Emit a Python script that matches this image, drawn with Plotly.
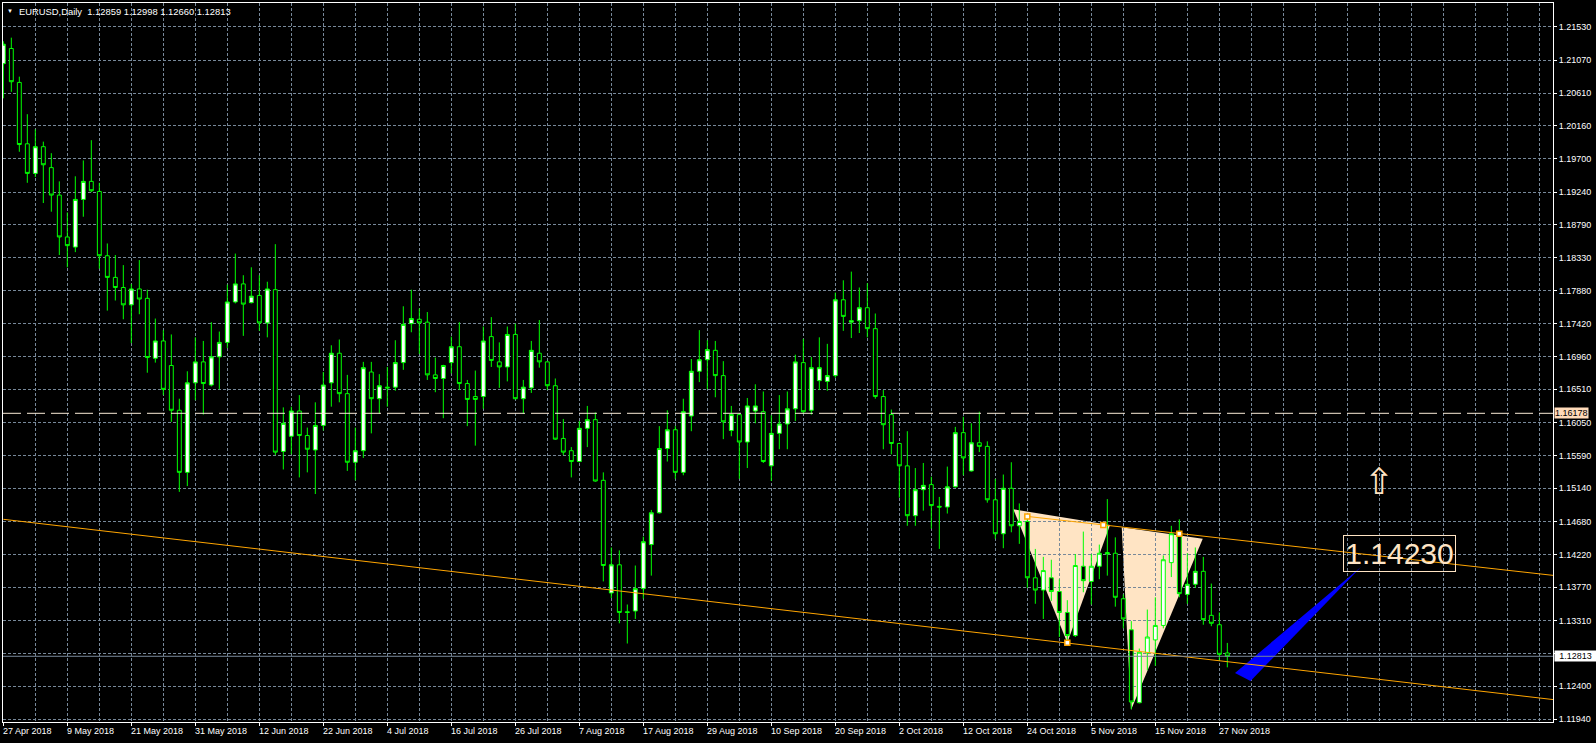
import plotly.graph_objects as go

# ---------------- data ----------------
open_ = [1.2102, 1.2123, 1.2076, 1.1991, 1.1950, 1.1987, 1.1958, 1.1920, 1.1862, 1.1848,
         1.1914, 1.1939, 1.1925, 1.1836, 1.1806, 1.1792, 1.1768, 1.1790, 1.1777, 1.1694,
         1.1718, 1.1684, 1.1622, 1.1536, 1.1660, 1.1689, 1.1657, 1.1696, 1.1716, 1.1772,
         1.1797, 1.1771, 1.1781, 1.1743, 1.1789, 1.1565, 1.1586, 1.1621, 1.1587, 1.1567,
         1.1601, 1.1660, 1.1701, 1.1645, 1.1550, 1.1566, 1.1675, 1.1638, 1.1654, 1.1654,
         1.1688, 1.1742, 1.1748, 1.1744, 1.1671, 1.1666, 1.1688, 1.1710, 1.1659, 1.1641,
         1.1641, 1.1724, 1.1689, 1.1682, 1.1727, 1.1638, 1.1653, 1.1701, 1.1689, 1.1656,
         1.1583, 1.1566, 1.1551, 1.1597, 1.1609, 1.1525, 1.1369, 1.1408, 1.1343, 1.1344,
         1.1375, 1.1436, 1.1480, 1.1569, 1.1595, 1.1536, 1.1614, 1.1676, 1.1692, 1.1705,
         1.1670, 1.1594, 1.1616, 1.1578, 1.1621, 1.1620, 1.1545, 1.1590, 1.1603, 1.1624,
         1.1688, 1.1622, 1.1663, 1.1662, 1.1670, 1.1775, 1.1744, 1.1746, 1.1764, 1.1735,
         1.1641, 1.1616, 1.1576, 1.1545, 1.1476, 1.1512, 1.1519, 1.1489, 1.1488, 1.1516,
         1.1591, 1.1538, 1.1577, 1.1572, 1.1498, 1.1451, 1.1514, 1.1462, 1.1468, 1.1390,
         1.1373, 1.1390, 1.1371, 1.1342, 1.1310, 1.1406, 1.1385, 1.1406, 1.1425, 1.1424,
         1.1361, 1.1318, 1.1217, 1.1286, 1.1304, 1.1324, 1.1411, 1.1451, 1.1367, 1.1381,
         1.1399, 1.1338, 1.1325, 1.12859]
high = [1.2133, 1.2138, 1.2084, 1.2032, 1.2011, 1.1994, 1.1978, 1.1939, 1.1896, 1.1946,
        1.1968, 1.1996, 1.1937, 1.1853, 1.1837, 1.1823, 1.1797, 1.1830, 1.1789, 1.1749,
        1.1733, 1.1727, 1.1638, 1.1676, 1.1723, 1.1718, 1.1744, 1.1731, 1.1796, 1.1839,
        1.1809, 1.1820, 1.1809, 1.1800, 1.1852, 1.1626, 1.1627, 1.1643, 1.1598, 1.1633,
        1.1675, 1.1712, 1.1720, 1.1671, 1.1598, 1.1689, 1.1689, 1.1672, 1.1682, 1.1719,
        1.1766, 1.1789, 1.1763, 1.1758, 1.1695, 1.1685, 1.1724, 1.1744, 1.1664, 1.1677,
        1.1738, 1.1751, 1.1716, 1.1738, 1.1742, 1.1664, 1.1718, 1.1747, 1.1690, 1.1666,
        1.1610, 1.1571, 1.1607, 1.1628, 1.1619, 1.1536, 1.1432, 1.1428, 1.1353, 1.1407,
        1.1447, 1.1484, 1.1600, 1.1622, 1.1600, 1.1638, 1.1693, 1.1733, 1.1719, 1.1718,
        1.1690, 1.1628, 1.1618, 1.1639, 1.1658, 1.1648, 1.1615, 1.1643, 1.1648, 1.1699,
        1.1721, 1.1696, 1.1723, 1.1714, 1.1785, 1.1802, 1.1814, 1.1792, 1.1798, 1.1756,
        1.1650, 1.1623, 1.1577, 1.1593, 1.1542, 1.1549, 1.1530, 1.1502, 1.1544, 1.1599,
        1.1613, 1.1604, 1.1620, 1.1579, 1.1527, 1.1533, 1.1550, 1.1493, 1.1474, 1.1430,
        1.1419, 1.1415, 1.1388, 1.1359, 1.1423, 1.1454, 1.1423, 1.1436, 1.1499, 1.1446,
        1.1367, 1.1330, 1.1292, 1.1346, 1.1363, 1.1421, 1.1462, 1.1471, 1.1424, 1.1432,
        1.1419, 1.1382, 1.1342, 1.12998]
low = [1.2054, 1.2063, 1.1980, 1.1937, 1.1945, 1.1909, 1.1897, 1.1837, 1.1820, 1.1841,
       1.1890, 1.1924, 1.1818, 1.1760, 1.1774, 1.1748, 1.1715, 1.1755, 1.1674, 1.1688,
       1.1643, 1.1606, 1.1509, 1.1517, 1.1636, 1.1616, 1.1655, 1.1651, 1.1708, 1.1770,
       1.1725, 1.1770, 1.1732, 1.1723, 1.1560, 1.1540, 1.1561, 1.1529, 1.1536, 1.1506,
       1.1594, 1.1627, 1.1633, 1.1538, 1.1525, 1.1556, 1.1590, 1.1617, 1.1627, 1.1649,
       1.1678, 1.1730, 1.1700, 1.1664, 1.1647, 1.1611, 1.1673, 1.1650, 1.1600, 1.1573,
       1.1624, 1.1682, 1.1653, 1.1662, 1.1637, 1.1617, 1.1646, 1.1681, 1.1650, 1.1581,
       1.1560, 1.1529, 1.1550, 1.1571, 1.1523, 1.1385, 1.1362, 1.1327, 1.1299, 1.1333,
       1.1361, 1.1393, 1.1479, 1.1551, 1.1527, 1.1532, 1.1593, 1.1661, 1.1651, 1.1640,
       1.1582, 1.1586, 1.1527, 1.1542, 1.1604, 1.1549, 1.1524, 1.1568, 1.1568, 1.1607,
       1.1617, 1.1616, 1.1650, 1.1649, 1.1667, 1.1732, 1.1722, 1.1729, 1.1723, 1.1638,
       1.1568, 1.1561, 1.1501, 1.1462, 1.1462, 1.1483, 1.1458, 1.1430, 1.1479, 1.1515,
       1.1532, 1.1537, 1.1564, 1.1494, 1.1444, 1.1431, 1.1453, 1.1437, 1.1376, 1.1354,
       1.1333, 1.1358, 1.1308, 1.1301, 1.1308, 1.1370, 1.1353, 1.1388, 1.1393, 1.1350,
       1.1320, 1.1208, 1.1216, 1.1262, 1.1268, 1.1320, 1.1391, 1.1363, 1.1354, 1.1376,
       1.1325, 1.1323, 1.1275, 1.12660]
close = [1.2129, 1.2077, 1.1990, 1.1950, 1.1987, 1.1962, 1.1920, 1.1862, 1.1850, 1.1914,
         1.1939, 1.1926, 1.1836, 1.1806, 1.1792, 1.1768, 1.1790, 1.1776, 1.1695, 1.1718,
         1.1651, 1.1622, 1.1536, 1.1660, 1.1689, 1.1659, 1.1696, 1.1716, 1.1772, 1.1797,
         1.1769, 1.1780, 1.1743, 1.1790, 1.1564, 1.1604, 1.1621, 1.1587, 1.1568, 1.1601,
         1.1657, 1.1701, 1.1645, 1.1550, 1.1566, 1.1681, 1.1638, 1.1656, 1.1653, 1.1688,
         1.1741, 1.1749, 1.1743, 1.1671, 1.1666, 1.1684, 1.1710, 1.1659, 1.1637, 1.1637,
         1.1718, 1.1691, 1.1682, 1.1727, 1.1638, 1.1654, 1.1705, 1.1689, 1.1656, 1.1582,
         1.1564, 1.1551, 1.1597, 1.1609, 1.1524, 1.1407, 1.1408, 1.1342, 1.1342, 1.1375,
         1.1440, 1.1480, 1.1569, 1.1595, 1.1536, 1.1620, 1.1676, 1.1692, 1.1706, 1.1670,
         1.1606, 1.1616, 1.1578, 1.1628, 1.1628, 1.1551, 1.1590, 1.1603, 1.1624, 1.1689,
         1.1620, 1.1681, 1.1681, 1.1670, 1.1775, 1.1752, 1.1746, 1.1764, 1.1735, 1.1641,
         1.1602, 1.1576, 1.1545, 1.1476, 1.1512, 1.1518, 1.1490, 1.1488, 1.1516, 1.1591,
         1.1556, 1.1577, 1.1572, 1.1498, 1.1451, 1.1514, 1.1462, 1.1468, 1.1390, 1.1373,
         1.1400, 1.1371, 1.1342, 1.1310, 1.1407, 1.1386, 1.1406, 1.1424, 1.1423, 1.1363,
         1.1333, 1.1218, 1.1287, 1.1308, 1.1324, 1.1415, 1.1451, 1.1368, 1.1381, 1.1399,
         1.1332, 1.1327, 1.1284, 1.12813]
bar_index = list(range(len(open_)))

date_label_bars = [0, 8, 16, 24, 32, 40, 48, 56, 64, 72, 80, 88, 96, 104, 112, 120, 128, 136, 144, 152]
date_labels = ["27 Apr 2018", "9 May 2018", "21 May 2018", "31 May 2018", "12 Jun 2018",
               "22 Jun 2018", "4 Jul 2018", "16 Jul 2018", "26 Jul 2018", "7 Aug 2018",
               "17 Aug 2018", "29 Aug 2018", "10 Sep 2018", "20 Sep 2018", "2 Oct 2018",
               "12 Oct 2018", "24 Oct 2018", "5 Nov 2018", "15 Nov 2018", "27 Nov 2018"]

price_ticks = ["1.21530", "1.21070", "1.20610", "1.20160", "1.19700", "1.19240", "1.18790",
               "1.18330", "1.17880", "1.17420", "1.16960", "1.16510", "1.16050", "1.15590",
               "1.15140", "1.14680", "1.14220", "1.13770", "1.13310", "1.12850", "1.12400",
               "1.11940"]

title_text = "EURUSD,Daily\u00a0\u00a01.12859 1.12998 1.12660 1.12813"

hline_level = 1.16178
bid_level = 1.12813

lower_tl_x = [0, 194]
lower_tl_y = [1.1471, 1.1221]
upper_tl_x = [128, 194]
upper_tl_y = [1.1475, 1.1393]
pivot_x = [128, 137.5, 147, 133]
pivot_y = [1.1475, 1.1463, 1.1451, 1.1300]

tri1_x = [126.25, 138.34, 133.0]
tri1_y = [1.1485, 1.1463, 1.1300]
tri2_x = [139.8, 149.93, 140.96]
tri2_y = [1.1460, 1.1444, 1.1207]

blue_x = [153.96, 155.9, 169.7]
blue_y = [1.1258, 1.1247, 1.1405]

target_x, target_y, target_text = 174.5, 1.1423, "1.14230"
arrow_x, arrow_y = 172, 1.1524

# ---------------- styling ----------------
GRID = "#778899"
BISQUE = "#FFE4C4"
FONT = "Liberation Sans"

fig = go.Figure()

fig.add_trace(go.Scatter(x=blue_x, y=blue_y, fill="toself", fillcolor="#0000FF",
                         mode="lines", line=dict(width=0, color="#0000FF"), hoverinfo="skip"))

fig.add_trace(go.Candlestick(
    x=bar_index, open=open_, high=high, low=low, close=close,
    increasing=dict(line=dict(color="#00FF00", width=1), fillcolor="#FFFFFF"),
    decreasing=dict(line=dict(color="#00FF00", width=1), fillcolor="#000000"),
    whiskerwidth=0, hoverinfo="skip"))

fig.add_trace(go.Scatter(x=lower_tl_x, y=lower_tl_y, mode="lines",
                         line=dict(color="#FFA500", width=1), hoverinfo="skip"))
fig.add_trace(go.Scatter(x=upper_tl_x, y=upper_tl_y, mode="lines",
                         line=dict(color="#FFA500", width=1), hoverinfo="skip"))
fig.add_trace(go.Scatter(x=pivot_x, y=pivot_y, mode="markers",
                         marker=dict(symbol="square", size=5, color="#FFFFFF",
                                     line=dict(color="#FFA500", width=1.5)),
                         hoverinfo="skip"))

for tx, ty in ((tri1_x, tri1_y), (tri2_x, tri2_y)):
    path = "M {},{} L {},{} L {},{} Z".format(tx[0], ty[0], tx[1], ty[1], tx[2], ty[2])
    fig.add_shape(type="path", path=path, xref="x", yref="y", layer="below",
                  fillcolor=BISQUE, line=dict(width=0))

fig.add_hline(y=hline_level, line=dict(color="#FAEBD7", width=1, dash="18px,6px"))
fig.add_hline(y=bid_level, line=dict(color=GRID, width=1))

# price labels on the right axis
fig.add_annotation(x=1, xref="paper", y=hline_level, yref="y", text="1.16178",
                   xanchor="left", xshift=1, showarrow=False, bgcolor="#FFDAB9",
                   font=dict(family=FONT, size=9, color="black"), borderpad=0)
fig.add_annotation(x=1, xref="paper", y=bid_level, yref="y", text="1.12813",
                   xanchor="left", xshift=1, showarrow=False, bgcolor="#FFFFFF",
                   font=dict(family=FONT, size=9, color="black"), borderpad=0, width=41)

# date labels
for b, lab in zip(date_label_bars, date_labels):
    fig.add_annotation(x=b, xref="x", y=0, yref="paper", text=lab, showarrow=False,
                       xanchor="left", yanchor="top", xshift=-2, yshift=-2,
                       font=dict(family=FONT, size=9, color="white"))

# title
fig.add_annotation(x=0, xref="paper", y=1, yref="paper", text="\u25BC", showarrow=False,
                   xanchor="left", yanchor="top", xshift=2, yshift=-3,
                   font=dict(family=FONT, size=6, color="white"))
fig.add_annotation(x=0, xref="paper", y=1, yref="paper", text=title_text, showarrow=False,
                   xanchor="left", yanchor="top", xshift=14, yshift=-1,
                   font=dict(family=FONT, size=9.4, color="white"))

# target price box
fig.add_annotation(x=target_x, y=target_y, text=target_text, showarrow=False,
                   xanchor="center", yanchor="middle", bordercolor=BISQUE, borderwidth=1,
                   borderpad=0, width=111, height=35,
                   font=dict(family=FONT, size=30, color=BISQUE))
fig.add_annotation(x=arrow_x, y=arrow_y, text="\u21E7", showarrow=False,
                   xanchor="center", yanchor="middle",
                   font=dict(family="DejaVu Sans", size=36, color=BISQUE))

fig.update_layout(
    width=1596, height=743,
    margin=dict(l=3, r=43, t=3, b=21),
    paper_bgcolor="black", plot_bgcolor="black",
    showlegend=False, hovermode=False,
    font=dict(family=FONT, size=9, color="white"),
)
fig.update_xaxes(
    range=[-0.04, 193.71], rangeslider_visible=False,
    showline=True, linecolor="white", linewidth=1, mirror=True,
    tickmode="array", tickvals=date_label_bars, showticklabels=False,
    ticks="outside", ticklen=3, tickcolor="white",
    showgrid=True, gridcolor=GRID, gridwidth=1, griddash="3px,2px", zeroline=False,
    minor=dict(tick0=0, dtick=4, showgrid=True, gridcolor=GRID, gridwidth=1,
               griddash="3px,2px", ticks=""),
)
fig.update_yaxes(
    range=[1.11903, 1.21860], side="right",
    showline=True, linecolor="white", linewidth=1, mirror=True,
    tickmode="array", tickvals=[float(t) for t in price_ticks], ticktext=price_ticks,
    ticks="outside", ticklen=3, tickcolor="white",
    tickfont=dict(family=FONT, size=9, color="white"),
    showgrid=True, gridcolor=GRID, gridwidth=1, griddash="3px,2px", zeroline=False,
)

fig.write_html("out.html", config={"displayModeBar": False},
               post_script="document.body.style.margin='0px';document.body.style.padding='0px';"
                           "document.body.style.background='black';")
